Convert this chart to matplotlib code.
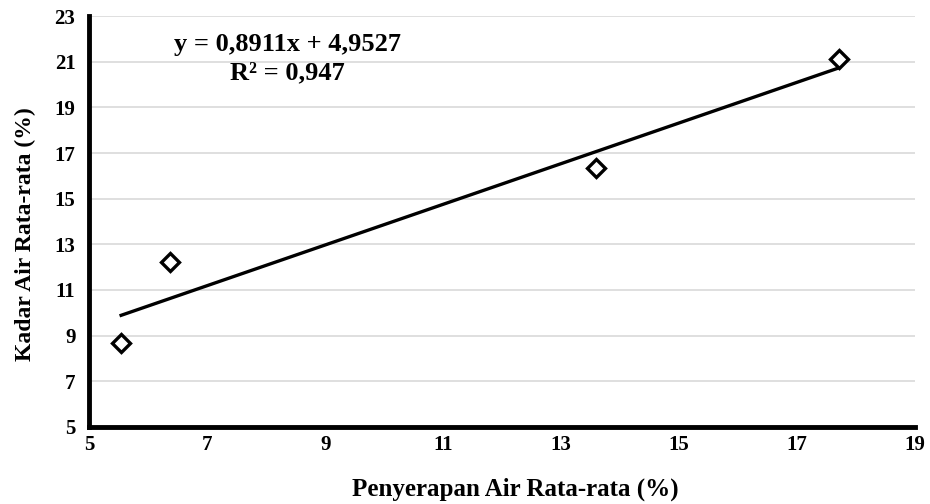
import matplotlib.pyplot as plt

# data
penyerapan = [5.54, 6.37, 13.59, 17.71]
kadar_air = [8.68, 12.23, 16.34, 21.12]
slope = 0.8911
intercept = 4.9527
r_squared = 0.947

x_ticks = [5, 7, 9, 11, 13, 15, 17, 19]
y_ticks = [5, 7, 9, 11, 13, 15, 17, 19, 21, 23]

plt.rcParams['font.family'] = ['Liberation Serif', 'DejaVu Serif']
plt.rcParams['font.weight'] = 'bold'

fig = plt.figure(figsize=(9.3, 5.04), dpi=100)
ax = fig.add_axes([0.096, 0.153, 0.888, 0.815])

# horizontal gridlines
for yv in y_ticks[1:]:
    ax.axhline(yv, color='#d9d9d9', lw=1.2, zorder=0)

ax.plot(penyerapan, kadar_air, linestyle='none', marker='D', markersize=9,
        markerfacecolor='white', markeredgecolor='black', markeredgewidth=2.4, zorder=3)

# linear trendline over the data range
x_fit = [min(penyerapan), max(penyerapan)]
y_fit = [slope * v + intercept for v in x_fit]
ax.plot(x_fit, y_fit, color='black', lw=2.4, zorder=2)

eq = f"y = {slope:.4f}x + {intercept:.4f}".replace('.', ',')
r2 = f"R² = {r_squared:.3f}".replace('.', ',')
ax.text(8.36, 21.75, eq, ha='center', va='center', fontsize=19, fontweight='bold')
ax.text(8.36, 20.5, r2, ha='center', va='center', fontsize=19, fontweight='bold')

ax.set_xlim(5, 19)
ax.set_ylim(5, 23)
ax.set_xticks(x_ticks)
ax.set_yticks(y_ticks)
ax.tick_params(length=0, labelsize=15)
ax.tick_params(axis='y', pad=10)
ax.tick_params(axis='x', pad=6)
for lbl in ax.get_xticklabels() + ax.get_yticklabels():
    lbl.set_fontweight('bold')

for side in ['top', 'right']:
    ax.spines[side].set_visible(False)
for side in ['left', 'bottom']:
    ax.spines[side].set_linewidth(3.5)
    ax.spines[side].set_color('black')

ax.set_xlabel('Penyerapan Air Rata-rata (%)', fontsize=18, fontweight='bold', va='center')
ax.set_ylabel('Kadar Air Rata-rata (%)', fontsize=17, fontweight='bold', va='center')
ax.xaxis.set_label_coords(0.516, -0.153)
ax.yaxis.set_label_coords(-0.077, 0.47)

fig.savefig('out.png', dpi=100)
